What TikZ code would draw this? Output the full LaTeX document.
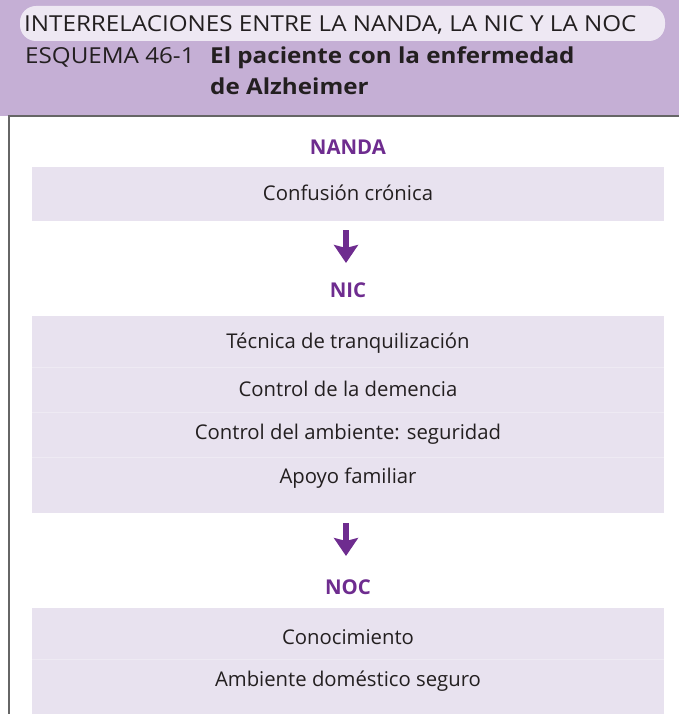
\documentclass[tikz,border=0pt]{standalone}
\usepackage{fontspec}
\setmainfont{Open Sans}
\newfontfamily\widefont[FakeStretch=1.1]{Open Sans}
\usetikzlibrary{arrows.meta}
\definecolor{hdr}{HTML}{C5AFD5}
\definecolor{pill}{HTML}{EEE8F3}
\definecolor{boxc}{HTML}{E8E2EF}
\definecolor{sepc}{HTML}{EEEAF3}
\definecolor{purp}{HTML}{6E2C8F}
\definecolor{bordc}{HTML}{666666}
\definecolor{txt}{HTML}{231F20}
\tikzset{
  lab/.style={font=\fontsize{20.4}{24}\selectfont\bfseries, text=purp, inner sep=0pt},
  item/.style={font=\fontsize{20.3}{24}\selectfont, text=txt, inner sep=0pt},
  hdrtext/.style={font=\widefont\fontsize{22}{26}\selectfont, inner sep=0pt, text=txt, anchor=base west},
  hdrbold/.style={hdrtext, font=\widefont\fontsize{22}{26}\selectfont\bfseries},
  flowarrow/.style={draw=purp, line width=6.5pt, -{Stealth[length=18pt,width=24pt,inset=3pt]}}
}
\begin{document}
\begin{tikzpicture}[x=1pt,y=-1pt]
\useasboundingbox (0,0) rectangle (679,714);
% header
\fill[hdr] (0,0) rectangle (679,116);
\fill[pill, rounded corners=16pt] (20,6) rectangle (665,41);
\node[hdrtext] (title) at (24,32) {INTERRELACIONES ENTRE LA NANDA, LA NIC Y LA NOC};
\node[hdrtext] (esq) at (25,64) {ESQUEMA 46-1};
\node[hdrbold] (sub1) at (210,64) {El paciente con la enfermedad};
\node[hdrbold] (sub2) at (210,95) {de Alzheimer};
% frame
\draw[bordc, line width=2pt] (8,116) -- (679,116);
\draw[bordc, line width=2pt] (9,116) -- (9,714);
% boxes
\fill[boxc] (32,167) rectangle (664,221);
\fill[boxc] (32,316) rectangle (664,513);
\fill[boxc] (32,608) rectangle (664,714);
\draw[sepc, line width=0.5pt] (32,367) -- (664,367);
\draw[sepc, line width=0.5pt] (32,412) -- (664,412);
\draw[sepc, line width=0.5pt] (32,457) -- (664,457);
\draw[sepc, line width=0.5pt] (32,659) -- (664,659);
% labels and items
\node[lab] (nanda) at (348,147) {NANDA};
\node[item] (c1) at (348,193) {Confusión crónica};
\node[lab] (nic) at (348,290) {NIC};
\node[item] (i1) at (348,343) {Técnica de tranquilización};
\node[item] (i2) at (348,389) {Control de la demencia};
\node[item] (i3) at (348,434) {Control del ambiente: seguridad};
\node[item] (i4) at (348,478) {Apoyo familiar};
\node[lab] (noc) at (348,587) {NOC};
\node[item] (o1) at (348,637) {Conocimiento};
\node[item] (o2) at (348,681) {Ambiente doméstico seguro};
% arrows
\coordinate (a1s) at (346,230);
\coordinate (a1e) at (346,263);
\coordinate (a2s) at (346,523);
\coordinate (a2e) at (346,556);
\draw[flowarrow] (a1s) -- (a1e);
\draw[flowarrow] (a2s) -- (a2e);
\end{tikzpicture}
\end{document}
